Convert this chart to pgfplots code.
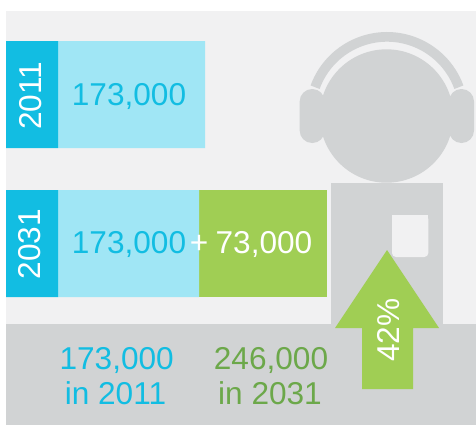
\documentclass[border=0pt]{standalone}
\usepackage{pgfplots}
\pgfplotsset{compat=1.18}
\usepackage{fontspec}
\setmainfont{Liberation Sans}
\definecolor{cyanD}{HTML}{12BDE2}
\definecolor{cyanL}{HTML}{A0E6F5}
\definecolor{greenA}{HTML}{A0CE54}
\definecolor{greenT}{HTML}{6CA84A}
\definecolor{panel}{HTML}{F1F1F2}
\definecolor{greyP}{HTML}{D1D3D4}
\def\fs{\fontsize{31.6bp}{31.6bp}\selectfont}
\begin{document}
\begin{tikzpicture}[x=1bp,y=-1bp]
% page frame and backdrop
\path (0,0) rectangle (476,425);
\fill[panel] (6,11) rectangle (476,425);
\fill[greyP] (6,324) rectangle (476,425);
% figure
\fill[greyP] (331,183) rectangle (443,325);
\fill[greyP] (386.5,116) circle [radius=66.7bp];
\draw[greyP, line width=9.7bp] (315.1,87.2) arc [start angle=160, end angle=20, radius=76.5bp];
\fill[greyP, rounded corners=12.4bp] (299.7,89) rectangle (324.7,143);
\fill[greyP, rounded corners=12.4bp] (449,89) rectangle (474,143);
\fill[panel, rounded corners=4bp] (392,215) rectangle (428.3,257);
\fill[panel] (392,215) rectangle (428.3,225);
\begin{axis}[
  at={(0bp,-425bp)}, anchor=south west,
  scale only axis, width=476bp, height=425bp,
  xmin=0, xmax=476, ymin=0, ymax=425, y dir=reverse,
  hide axis, clip=false,
  xbar stacked, bar width=107,
]
% bars (pixel widths)
\addplot[draw=none, fill=none] coordinates {(6,94.5) (6,243.5)};
\addplot[draw=none, fill=cyanD] coordinates {(52,94.5) (52,243.5)};
\addplot[draw=none, fill=cyanL] coordinates {(147,94.5) (141,243.5)};
\addplot[draw=none, fill=greenA] coordinates {(0,94.5) (128,243.5)};
\end{axis}
% arrow
\fill[greenA] (387,250) -- (439,328) -- (413,328) -- (413,389) -- (362,389) -- (362,328) -- (335,328) -- cycle;
% text
\tikzset{every node/.style={inner sep=0pt, outer sep=0pt, anchor=base}}
\node[rotate=90, text=white] at (41,96) {\fs 2011};
\node[rotate=90, text=white] at (40,244) {\fs 2031};
\node[text=cyanD] at (129,105) {\fs 173,000};
\node[text=cyanD] at (129,253) {\fs 173,000};
\node[text=white] at (199,253) {\fs +};
\node[text=white] at (264,253) {\fs 73,000};
\node[text=cyanD] at (116.7,369) {\fs 173,000};
\node[text=cyanD] at (115.5,404) {\fs in 2011};
\node[text=greenT] at (271,369) {\fs 246,000};
\node[text=greenT] at (270,404) {\fs in 2031};
\node[rotate=90, text=white] at (399,330) {\fs 42\%};
\end{tikzpicture}
\end{document}
